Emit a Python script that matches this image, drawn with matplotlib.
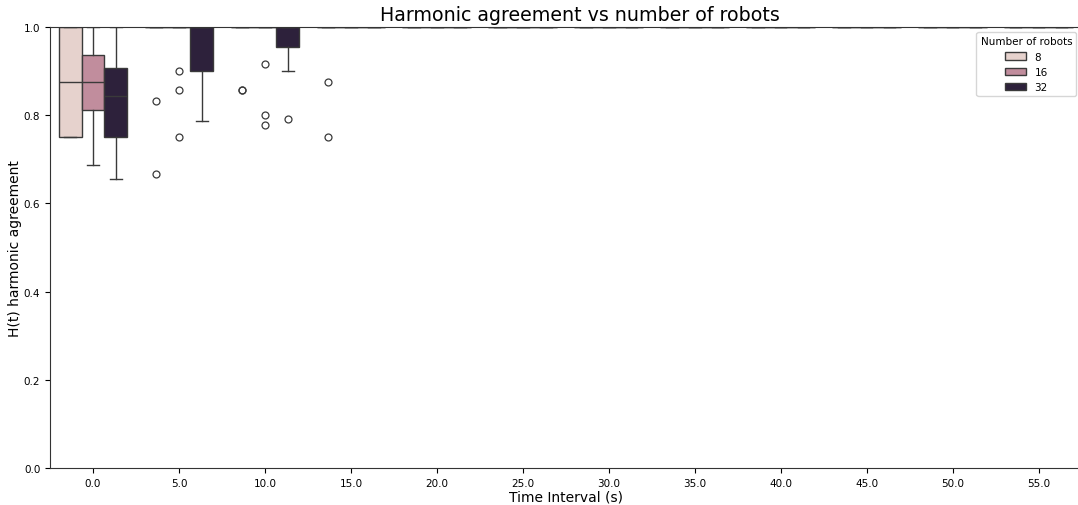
import matplotlib
matplotlib.use("Agg")
import matplotlib.pyplot as plt
from matplotlib.patches import Patch

# Intervalos de tiempo (categorías del eje x)
intervals = [0.0, 5.0, 10.0, 15.0, 20.0, 25.0, 30.0, 35.0, 40.0, 45.0, 50.0, 55.0]
robots = [8, 16, 32]
colors = ["#e6d2cd", "#c18d9d", "#2d213b"]

n = len(intervals)

# Estadísticos de cada caja: mediana, cuartiles y bigotes por número de robots
med_8 = [0.875] + [1.0] * (n - 1)
q1_8 = [0.75] + [1.0] * (n - 1)
q3_8 = [1.0] * n
lo_8 = [0.75] + [1.0] * (n - 1)
hi_8 = [1.0] * n
fl_8 = [[], [0.833, 0.667], [0.857, 0.857], [0.875, 0.75]] + [[]] * (n - 4)

med_16 = [0.875] + [1.0] * (n - 1)
q1_16 = [0.8125] + [1.0] * (n - 1)
q3_16 = [0.9375] + [1.0] * (n - 1)
lo_16 = [0.6875] + [1.0] * (n - 1)
hi_16 = [1.0] * n
fl_16 = [[], [0.9, 0.857, 0.75], [0.917, 0.8, 0.778]] + [[]] * (n - 3)

med_32 = [0.84375, 1.0, 1.0] + [1.0] * (n - 3)
q1_32 = [0.75, 0.9, 0.955] + [1.0] * (n - 3)
q3_32 = [0.90625, 1.0, 1.0] + [1.0] * (n - 3)
lo_32 = [0.65625, 0.786, 0.9] + [1.0] * (n - 3)
hi_32 = [1.0] * n
fl_32 = [[], [], [0.792]] + [[]] * (n - 3)

groups = [
    (med_8, q1_8, q3_8, lo_8, hi_8, fl_8),
    (med_16, q1_16, q3_16, lo_16, hi_16, fl_16),
    (med_32, q1_32, q3_32, lo_32, hi_32, fl_32),
]

fig = plt.figure(figsize=(10.78, 5.06), dpi=100)
ax = fig.add_axes([0.0464, 0.0731, 0.957, 0.8715])

width = 0.8 / len(robots)
line_c = "#3a3a3a"
for k, (med, q1, q3, lo, hi, fl) in enumerate(groups):
    stats = []
    for i in range(n):
        stats.append({"med": med[i], "q1": q1[i], "q3": q3[i],
                      "whislo": lo[i], "whishi": hi[i], "fliers": fl[i]})
    pos = [i + (k - 1) * width for i in range(n)]
    ax.bxp(stats, positions=pos, widths=width, patch_artist=True, manage_ticks=False,
           boxprops=dict(facecolor=colors[k], edgecolor=line_c, linewidth=1.0),
           medianprops=dict(color=line_c, linewidth=1.0),
           whiskerprops=dict(color=line_c, linewidth=1.0),
           capprops=dict(color=line_c, linewidth=1.0),
           flierprops=dict(marker="o", markerfacecolor="none", markeredgecolor=line_c,
                           markersize=5, markeredgewidth=0.9))

ax.set_xlim(-0.5, n - 0.5)
ax.set_ylim(0, 1.0)
ax.set_xticks(range(n))
ax.set_xticklabels([f"{v:.1f}" for v in intervals])
ax.set_yticks([0.0, 0.2, 0.4, 0.6, 0.8, 1.0])
ax.tick_params(labelsize=7.5)
for s in ax.spines.values():
    s.set_color("#333333")

ax.set_title("Harmonic agreement vs number of robots", fontsize=13.7, pad=5, x=0.5136)
ax.set_xlabel("Time Interval (s)", fontsize=10, labelpad=1.5)
ax.set_ylabel("H(t) harmonic agreement", fontsize=10, labelpad=1)

handles = [Patch(facecolor=c, edgecolor=line_c, linewidth=1.0) for c in colors]
ax.legend(handles, [str(r) for r in robots], title="Number of robots",
          loc="upper right", fontsize=7.5, title_fontsize=7.5)

fig.savefig("out.png", dpi=100)
